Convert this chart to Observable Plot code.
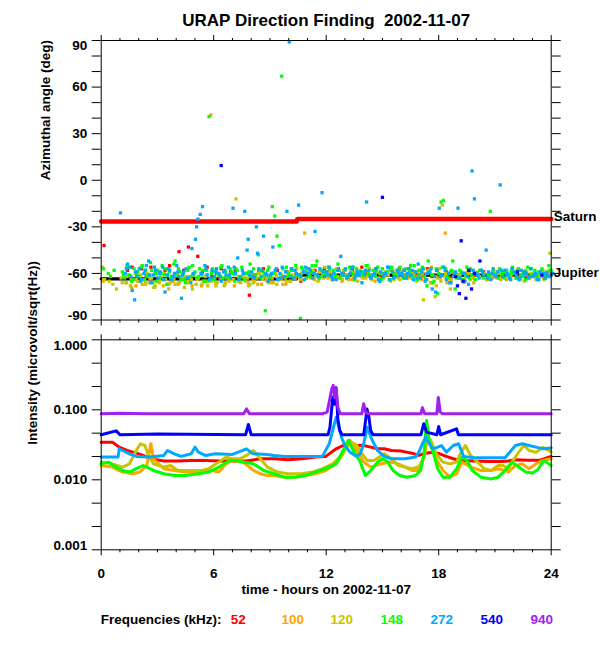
<!DOCTYPE html>
<html><head><meta charset="utf-8">
<script src="https://cdn.jsdelivr.net/npm/d3@7"></script>
<script src="https://cdn.jsdelivr.net/npm/@observablehq/plot@0.6"></script>
<style>
body{margin:0;background:#fff;overflow:hidden;}
#wrap{position:relative;width:600px;height:650px;font-family:"Liberation Sans",Arial,Helvetica,sans-serif;font-weight:bold;color:#000;}
#top{position:absolute;left:0;top:0;}
#bot{position:absolute;left:0;top:330px;}
#legend{position:absolute;top:611px;left:0;width:600px;height:18px;font-size:13.5px;line-height:18px;}
#legend span{position:absolute;top:0;white-space:nowrap;}
</style></head><body>
<div id="wrap"><div id="top"></div><div id="bot"></div><div id="legend"></div></div>
<script>
// ---------- labels / ticks ----------
const titleText = "URAP Direction Finding  2002-11-07";
const xTitle = "time - hours on 2002-11-07";
const topYTitle = "Azimuthal angle (deg)";
const botYTitle = "Intensity (microvolt/sqrt(Hz))";
const legendTitle = "Frequencies (kHz):";
const xMajor = [0, 6, 12, 18, 24];
const xMinor = [1,2,3,4,5,7,8,9,10,11,13,14,15,16,17,19,20,21,22,23];
const angleTicks = [-90,-80,-70,-60,-50,-40,-30,-20,-10,0,10,20,30,40,50,60,70,80,90];
const angleLabels = [-60,-30,0,30,60];
const angleEndTop = [90];
const angleEndBottom = [-90];
const intTicks = [0.001,0.00215,0.00464,0.01,0.0215,0.0464,0.1,0.215,0.464,1];
const intLabels = [0.01, 0.1];
const intEndTop = [1];
const intEndBottom = [0.001];
const freqs = [52, 100, 120, 148, 272, 540, 940];
const freqColors = ["#ff0000", "#ffa500", "#c8c400", "#00ff00", "#00a8ff", "#0000ff", "#a020f0"];
const legendX = [238.3, 292.7, 341.7, 391.7, 441.7, 491.7, 541.7];

// ---------- source direction lines ----------
const saturnT = [0, 10.42, 10.46, 24];
const saturnA = [-26.6, -26.6, -24.9, -24.9];
const jupiterT = [0, 10.42, 10.46, 24];
const jupiterA = [-63.5, -63.5, -61.1, -61.1];

// ---------- azimuth samples (deg), one row per hour ----------
// 148 kHz, start 0.00 h, every 0.125 h
const az148 = [
 null,-57,null,-60,-62,null,null,null,
 null,-59,-63,-55,-61,-65,-57,-60,
 -62,-56,-64,-58,-61,-53,-66,-60,
 -58,-63,-55,-61,-67,-59,-62,-54,
 -61,-57,-64,-60,-66,-58,-62,-55,
 -59,-63,-57,-61,-65,-58,41,-60,
 -64,-58,-61,-56,-63,-59,-62,-57,
 -60,-65,-58,-62,-56,-64,-60,-59,
 -62,-57,-61,-48,-63,-59,-84,-58,
 -63,-17,-23,-36,-42,67,-62,-56,
 -60,-58,-63,-55,-61,-89,-57,-59,
 -57,-62,-55,-60,-52,-63,-58,-61,
 -59,-56,-62,-58,-61,-54,-63,-60,
 -58,-62,-56,-60,-64,-57,-61,-59,
 -61,-55,-60,-63,-58,-62,-56,-60,
 -57,-61,-59,-64,-56,-60,-62,-58,
 -60,-63,-57,-61,-55,-62,-59,-64,
 -58,-56,-62,-68,-59,-61,-65,-57,
 -60,-14,-13,-57,-63,-59,-52,-70,
 -62,-58,-64,-60,-56,-63,-61,null,
 -60,null,-58,-63,null,-61,-20,-59,
 -62,null,-57,-60,-63,-58,-61,-59,
 -60,-63,-57,-61,-59,-64,-56,-62,
 -61,-58,-63,-60,-57,-62,-59,-55,
 -58];
// 148 kHz, second antenna sweep, start 0.19 h, every 0.25 h
const az148b = [
 null,null,-58,null,
 -61,-56,-64,-59,
 -55,-62,-58,-65,
 -60,-57,-63,-52,
 -59,-64,-56,-61,
 -62,-58,-65,-57,
 -60,-55,-63,-59,
 -57,-62,-60,-54,
 -63,-58,-61,-56,
 -60,-64,-57,-62,
 -58,-61,-56,-63,
 -59,-55,-62,-60,
 -57,-63,-58,-61,
 -62,-56,-60,-59,
 -55,-61,-58,-64,
 -60,-57,-62,-56,
 -63,-59,-55,-61,
 -57,-52,-66,-73,
 -56,-62,-58,-63,
 -59,-61,-57,-64,
 -58,null,-62,-60,
 -63,-59,-61,-56,
 -58,-62,-60,-57,
 -61,-59,-63,-58,
 null];
// 120 kHz, start 0.06 h, every 0.125 h
const az120 = [
 -56,-64,null,-65,null,null,-70,null,
 -63,null,-66,-61,-68,-64,-60,-65,
 -62,-67,-64,-60,-66,-63,-69,-61,
 -65,-62,-68,-64,-61,-66,-63,-67,
 -60,-66,-63,-69,-62,-65,-64,-61,
 -67,-63,-60,-65,-62,-68,-64,-59,
 -63,-66,-61,-64,-68,-62,-65,-60,
 -64,-12,-62,-66,-60,-65,-63,-67,
 -61,-65,-63,-60,-67,-62,-64,-66,
 -62,-66,-60,-64,-61,-67,-63,-59,
 -65,-61,-63,-57,-62,-60,-64,-58,
 -60,-63,-58,-62,-65,-59,-61,-56,
 -62,-59,-64,-60,-57,-63,-61,-58,
 -61,-64,-59,-62,-60,-65,-58,-63,
 -60,-62,-57,-64,-61,-59,-63,-60,
 -63,-59,-61,-65,-58,-62,-60,-64,
 -59,-62,-60,-57,-63,-61,-65,-58,
 -62,-77,-64,-58,-66,-61,-75,-63,
 -57,-16,-62,-66,-60,-64,-59,-61,
 -63,-60,-65,-62,-58,-64,-61,null,
 -59,-62,null,-60,-64,null,-61,-58,
 -62,-60,-64,null,-59,-63,-61,-57,
 -60,-63,-58,-61,-65,-59,-62,-60,
 -61,-64,-59,-62,-58,-63,-60,-47,
 null];
// 120 kHz, second sweep, start 0.12 h, every 0.25 h
const az120b = [
 -64,null,-67,null,
 -66,-62,-69,-64,
 -61,-66,-63,-68,
 -64,-60,-67,-63,
 -66,-62,-65,-70,
 -63,-67,-61,-65,
 -68,-62,-66,-64,
 -61,-65,-63,-68,
 -66,-60,-64,-62,
 -63,-67,-61,-65,
 -62,-60,-64,-59,
 -61,-64,-59,-63,
 -60,-62,-58,-64,
 -63,-59,-62,-60,
 -58,-63,-61,-65,
 -61,-58,-64,-60,
 -62,-60,-63,-59,
 -60,-64,-56,-68,
 -65,-60,-70,-62,
 -61,-64,-59,-66,
 -62,-60,null,-63,
 -59,-62,-64,-60,
 -63,-61,-58,-62,
 -60,-62,-64,-59,
 null];
// 272 kHz, start 0.03 h, every 0.125 h
const az272 = [
 null,null,null,null,null,null,null,null,
 -21,null,-60,-54,-56,-71,-77,-62,
 -57,-64,-60,-55,-52,-66,-61,-58,
 -63,-59,-56,-72,-61,-58,-64,-60,
 -55,-62,-76,-59,-57,-63,-66,-60,
 -38,-25,-22,-17,-55,-61,-64,-58,
 -62,-57,-60,-65,-59,-61,-56,-63,
 -18,-60,-50,-63,-58,-20,-45,-61,
 -59,-63,-30,-57,-62,-36,-60,-65,
 -61,-43,-58,-64,-60,-56,-62,-20,
 89,-57,-63,-60,-16,-62,-59,-56,
 -60,-58,-63,-33,-61,-57,-8,-62,
 -59,-56,-62,-60,-64,-58,-49,-61,
 -57,-62,-60,-56,-63,-59,-61,-66,
 -60,-14,-58,-63,-61,-57,-64,-59,
 -62,-60,-56,-64,-59,-62,-58,-61,
 -60,-58,-63,-57,-61,-64,-59,-54,
 -63,-57,-65,-60,-59,-70,-62,-58,
 -18,-61,-56,-64,-60,-66,-62,-59,
 -18,-63,-60,-65,-62,-58,6,-12,
 -60,-63,-58,-61,-45,-59,-64,-57,
 -61,-59,-3,-62,-58,-60,-63,-57,
 -59,-62,-64,-58,-61,-60,-63,-57,
 -62,-60,-64,-59,-61,-63,-60,-62,
 null];
// 272 kHz, second sweep, start 0.09 h, every 0.25 h
const az272b = [
 null,null,null,null,
 null,-57,-62,-59,
 -65,-58,-61,-56,
 -60,-64,-57,-62,
 -59,-61,-63,-44,
 -30,-60,-57,-63,
 -59,-62,-58,-61,
 -56,-64,-60,-38,
 -62,-47,-58,-61,
 -60,-57,-63,-59,
 -62,-58,-61,-64,
 -57,-60,-62,-59,
 -61,-64,-58,-60,
 -63,-57,-61,-59,
 -58,-62,-60,-65,
 -60,-56,-63,-59,
 -62,-60,-58,-63,
 -59,-64,-57,-72,
 -62,-58,-66,-60,
 -63,-60,-67,-58,
 -61,-59,-63,-60,
 -62,-58,-61,-64,
 -60,-63,-59,-62,
 -61,-64,-60,-62,
 -60];
// 100 kHz, start 0.10 h, every 0.25 h
const az100 = [
 -65,null,null,null,
 null,-66,-64,-68,
 -65,-67,-63,-69,
 -66,-64,-70,-65,
 -67,-63,-66,-68,
 -64,-68,-65,42,
 -66,-63,-67,-64,
 -68,-65,-62,-66,
 -64,-67,-63,-65,
 -66,-62,-64,-67,
 -65,-63,-61,-34,
 -62,-60,-64,-61,
 -63,-60,-62,-65,
 -61,-64,-59,-62,
 -63,-61,-65,-60,
 -62,-64,-60,-63,
 -61,-63,-59,-62,
 -64,-60,-66,-62,
 -63,-34,-65,-60,
 -62,-66,-60,-63,
 -61,null,-64,-60,
 -63,-61,null,-62,
 -60,-64,-61,-63,
 -62,-60,-63,-61,
 null];
// 52 kHz, start 0.15 h, every 0.25 h
const az52 = [
 -42,null,null,null,
 null,-58,-56,-61,
 -57,-62,-56,-59,
 -60,-58,-55,-63,
 -46,-58,-43,-61,
 -49,-59,-56,-62,
 -60,-57,-63,-59,
 -58,-62,-60,-74,
 -61,-59,-57,-63,
 -60,-58,-62,-59,
 -57,-61,-65,-59,
 -60,-58,-62,-57,
 -59,-61,-57,-60,
 -62,-58,-60,-56,
 -59,-61,-57,-62,
 -60,-58,-61,-57,
 -58,-62,-59,-61,
 -60,-57,-62,-58,
 -61,-59,-63,-60,
 -62,-60,null,-61,
 null,-59,null,-62,
 null,-60,null,-61,
 -61,null,-62,null,
 -60,null,-61,-59,
 null];
// 540 kHz, sparse detections
const az540T = [6.4, 15.0, 18.9, 19.0, 19.1, 19.2, 19.3, 19.45, 19.6, 19.75, 19.9, 20.2, 22.2, 23.5];
const az540A = [9.5, -11, -62, -68, -73, -39, -65, -76, -58, -70, -60, -52, -59, -61];

// ---------- intensity (microvolt/sqrt(Hz)) [hour, value] ----------
const int52 = [[0,0.0345],[0.59,0.0345],[0.96,0.0293],[1.32,0.0268],[1.51,0.0257],[1.87,0.024],[2.24,0.0223],[2.61,0.02],[3.34,0.0185],[4.08,0.0185],[4.81,0.0189],[5.55,0.0189],[6.28,0.0185],[7.02,0.0185],[7.75,0.0185],[8.49,0.02],[9.22,0.02],[9.96,0.0193],[10.69,0.02],[11.43,0.0211],[11.98,0.0216],[12.53,0.0277],[12.9,0.0309],[13.27,0.0327],[13.63,0.0309],[14.0,0.0309],[14.37,0.0293],[14.74,0.0277],[15.1,0.0277],[15.47,0.0262],[16.02,0.0257],[16.57,0.024],[16.94,0.0223],[17.31,0.024],[17.68,0.0248],[18.05,0.0235],[18.41,0.0216],[18.78,0.02],[19.15,0.0189],[19.88,0.0185],[20.62,0.0183],[21.35,0.0183],[21.72,0.0185],[22.09,0.0193],[22.82,0.019],[23.4,0.019],[24,0.0215]];
const int100 = [[0,0.016],[0.59,0.0152],[1.14,0.0129],[1.69,0.0122],[2.06,0.0129],[2.43,0.016],[2.65,0.0327],[2.79,0.02],[3.34,0.0144],[3.9,0.0136],[4.45,0.0129],[5.18,0.0129],[5.92,0.0136],[6.28,0.0129],[6.65,0.0169],[7.02,0.0189],[7.57,0.0179],[8.12,0.0136],[8.49,0.0122],[8.86,0.0115],[9.22,0.0115],[9.78,0.0109],[10.33,0.0109],[10.88,0.0115],[11.43,0.0122],[11.98,0.0136],[12.53,0.0169],[12.9,0.0235],[13.27,0.0365],[13.63,0.0262],[14.0,0.0179],[14.37,0.0152],[14.92,0.0169],[15.47,0.0179],[15.84,0.0169],[16.21,0.0152],[16.57,0.0136],[16.94,0.0136],[17.22,0.0211],[17.4,0.0407],[17.59,0.0293],[17.95,0.0179],[18.23,0.0136],[18.6,0.0109],[18.96,0.0122],[19.24,0.0179],[19.7,0.0152],[20.25,0.0136],[20.8,0.0136],[21.17,0.0144],[21.54,0.0136],[21.72,0.0129],[22.09,0.016],[22.46,0.0169],[22.82,0.0144],[23.19,0.0169],[23.56,0.0189],[24,0.02]];
const int120 = [[0,0.0179],[0.59,0.0169],[1.14,0.0152],[1.51,0.0169],[1.87,0.0262],[2.09,0.0327],[2.33,0.0309],[2.52,0.0223],[2.79,0.0169],[3.34,0.0152],[3.71,0.016],[4.08,0.0136],[4.81,0.0136],[5.37,0.0136],[5.73,0.0144],[6.28,0.0179],[6.65,0.0211],[7.02,0.02],[7.39,0.02],[7.75,0.0223],[8.12,0.0262],[8.49,0.02],[8.86,0.0152],[9.41,0.0129],[9.96,0.0122],[10.69,0.0122],[11.25,0.0129],[11.8,0.0144],[12.35,0.0169],[12.72,0.0211],[13.08,0.0293],[13.36,0.0345],[13.63,0.0309],[13.91,0.0235],[14.19,0.0189],[14.55,0.0189],[14.83,0.0211],[15.1,0.0235],[15.47,0.02],[15.84,0.016],[16.21,0.0152],[16.57,0.0144],[16.94,0.0152],[17.22,0.0211],[17.4,0.0385],[17.59,0.0365],[17.86,0.0235],[18.23,0.0179],[18.6,0.0169],[18.96,0.0179],[19.15,0.0235],[19.42,0.0309],[19.7,0.0223],[20.07,0.0179],[20.43,0.0144],[20.8,0.0136],[21.17,0.016],[21.44,0.016],[21.72,0.0144],[21.9,0.0179],[22.27,0.0248],[22.55,0.0309],[22.82,0.0262],[23.19,0.0248],[23.56,0.029],[24,0.025]];
const int148 = [[0,0.0169],[0.4,0.0179],[0.77,0.0152],[1.14,0.0136],[1.51,0.0129],[1.87,0.0144],[2.24,0.016],[2.43,0.0152],[2.79,0.0136],[3.34,0.0122],[3.9,0.0115],[4.45,0.0115],[5.18,0.0122],[5.73,0.0129],[6.28,0.0152],[6.84,0.0189],[7.2,0.0189],[7.57,0.0179],[8.12,0.0169],[8.67,0.0136],[9.22,0.0122],[9.78,0.0109],[10.33,0.0109],[10.88,0.0115],[11.43,0.0129],[11.98,0.0144],[12.53,0.0169],[12.9,0.0262],[13.18,0.0365],[13.45,0.0262],[13.82,0.0179],[14.09,0.0115],[14.37,0.0136],[14.74,0.0179],[15.01,0.02],[15.29,0.0179],[15.56,0.0136],[15.93,0.0115],[16.3,0.0109],[16.76,0.0115],[17.03,0.0136],[17.22,0.0235],[17.35,0.0704],[17.49,0.0365],[17.68,0.0262],[17.95,0.0144],[18.23,0.0109],[18.6,0.0109],[18.96,0.0144],[19.24,0.0211],[19.51,0.0189],[19.79,0.0136],[20.25,0.0109],[20.8,0.0103],[21.17,0.0109],[21.54,0.0136],[21.9,0.0179],[22.27,0.0152],[22.64,0.0129],[23.0,0.0125],[23.3,0.014],[23.6,0.019],[24,0.016]];
const int272 = [[0,0.0211],[0.9,0.0211],[0.96,0.0277],[1.14,0.0262],[1.5,0.0235],[1.87,0.0216],[2.6,0.0211],[3.34,0.0223],[3.53,0.0262],[3.9,0.0235],[4.26,0.0216],[4.8,0.0235],[5.0,0.0293],[5.18,0.0248],[5.55,0.0223],[6.1,0.0235],[7.0,0.023],[7.75,0.0277],[8.1,0.0235],[8.86,0.023],[9.22,0.0223],[9.78,0.0216],[10.7,0.0216],[11.8,0.0216],[12.16,0.0327],[12.35,0.0507],[12.53,0.0785],[12.68,0.0565],[12.81,0.0407],[13.0,0.0309],[13.27,0.0248],[13.63,0.0216],[13.82,0.0235],[14.0,0.0327],[14.19,0.0565],[14.28,0.048],[14.46,0.0365],[14.74,0.0262],[15.1,0.0216],[15.47,0.02],[16.2,0.02],[16.76,0.0211],[16.94,0.0248],[17.13,0.0327],[17.31,0.0407],[17.4,0.0365],[17.68,0.0277],[17.95,0.0293],[18.14,0.0309],[18.41,0.0248],[18.78,0.0309],[19.06,0.0327],[19.33,0.0216],[19.88,0.0206],[20.8,0.0206],[21.54,0.0206],[21.72,0.0235],[22.09,0.0309],[22.46,0.0327],[22.82,0.0309],[23.19,0.0293],[23.56,0.0277],[24,0.0285]];
const int540 = [[0,0.044],[0.8,0.05],[1.0,0.044],[3.0,0.045],[7.7,0.044],[7.85,0.0617],[8.0,0.044],[12.1,0.044],[12.2,0.0565],[12.35,0.152],[12.45,0.12],[12.53,0.206],[12.62,0.0743],[12.72,0.0507],[12.85,0.044],[14.0,0.044],[14.1,0.07],[14.17,0.103],[14.28,0.0785],[14.37,0.0507],[14.5,0.044],[17.05,0.044],[17.2,0.0631],[17.35,0.048],[17.9,0.044],[18.0,0.0578],[18.1,0.044],[18.95,0.0535],[19.05,0.044],[24,0.044]];
const int940 = [[0,0.0877],[1.0,0.089],[2.5,0.0877],[5.0,0.088],[7.6,0.0877],[7.75,0.103],[7.9,0.0877],[11.8,0.0877],[12.05,0.0926],[12.16,0.129],[12.3,0.2],[12.38,0.223],[12.45,0.15],[12.53,0.2],[12.62,0.109],[12.75,0.0877],[13.9,0.0877],[14.0,0.122],[14.1,0.0926],[14.25,0.0877],[17.05,0.0877],[17.13,0.107],[17.25,0.0877],[17.9,0.0877],[17.98,0.15],[18.08,0.0926],[18.2,0.0877],[24,0.0877]];

// ---------- assemble ----------
function sampled(vals, t0, dt) {
  const out = [];
  vals.forEach((a, i) => { if (a != null) out.push({t: t0 + i * dt, a}); });
  return out;
}
const azSeries = [
  {data: sampled(az52, 0.15, 0.25), color: freqColors[0]},
  {data: sampled(az100, 0.10, 0.25), color: freqColors[1]},
  {data: sampled(az120, 0.06, 0.125), color: freqColors[2]},
  {data: sampled(az120b, 0.12, 0.25), color: freqColors[2]},
  {data: sampled(az148, 0.00, 0.125), color: freqColors[3]},
  {data: sampled(az148b, 0.19, 0.25), color: freqColors[3]},
  {data: sampled(az272, 0.03, 0.125), color: freqColors[4]},
  {data: sampled(az272b, 0.09, 0.25), color: freqColors[4]},
  {data: az540T.map((t, i) => ({t, a: az540A[i]})), color: freqColors[5]}
];
const intSeries = [int52, int100, int120, int148, int272, int540, int940];

const font = '"Liberation Sans", Arial, Helvetica, sans-serif';
const style = {fontFamily: font, fontSize: "13.5px", fontWeight: "bold", color: "black", background: "white", overflow: "visible"};

const topPlot = Plot.plot({
  width: 600, height: 330,
  marginTop: 40, marginBottom: 10.5, marginLeft: 100.7, marginRight: 49.3,
  x: {domain: [0, 24], label: null},
  y: {domain: [-90, 90], label: null},
  style,
  marks: [
    Plot.line(saturnT.map((t, i) => [t, saturnA[i]]), {x: d => d[0], y: d => d[1], stroke: "#ff0000", strokeWidth: 4.5}),
    Plot.line(jupiterT.map((t, i) => [t, jupiterA[i]]), {x: d => d[0], y: d => d[1], stroke: "#000", strokeWidth: 3.3}),
    ...azSeries.map(s => Plot.dot(s.data, {x: "t", y: "a", fill: s.color, r: 1.85, symbol: "square", stroke: null})),
    Plot.text(["Saturn"], {x: 24, y: saturnA[saturnA.length - 1], dx: 2.5, dy: -2, textAnchor: "start", text: d => d}),
    Plot.text(["Jupiter"], {x: 24, y: jupiterA[jupiterA.length - 1], dx: 2.5, dy: -2, textAnchor: "start", text: d => d}),
    Plot.frame({stroke: "black"}),
    Plot.axisX({anchor: "top", ticks: xMajor, tickSize: 6, tickFormat: () => "", label: null}),
    Plot.axisX({anchor: "top", ticks: xMinor, tickSize: 3, tickFormat: () => "", label: null}),
    Plot.axisX({anchor: "bottom", ticks: xMajor, tickSize: 6, tickFormat: () => "", label: null}),
    Plot.axisX({anchor: "bottom", ticks: xMinor, tickSize: 3, tickFormat: () => "", label: null}),
    Plot.axisY({anchor: "left", ticks: angleTicks, tickSize: 9, tickPadding: 5, tickFormat: d => angleLabels.includes(d) ? String(d) : "", label: null}),
    Plot.axisY({anchor: "right", ticks: angleTicks, tickSize: 9, tickFormat: () => "", label: null}),
    Plot.text(angleEndTop, {y: d => d, frameAnchor: "left", dx: -14, dy: 5, textAnchor: "end", text: d => String(d)}),
    Plot.text(angleEndBottom, {y: d => d, frameAnchor: "left", dx: -14, dy: -4.5, textAnchor: "end", text: d => String(d)}),
    Plot.text([topYTitle], {frameAnchor: "left", dx: -55.7, rotate: -90, text: d => d}),
    Plot.text([titleText], {frameAnchor: "top", dy: -26.5, fontSize: 17, text: d => d})
  ]
});
document.getElementById("top").appendChild(topPlot);

const botPlot = Plot.plot({
  width: 600, height: 280,
  marginTop: 9.3, marginBottom: 60.7, marginLeft: 100.7, marginRight: 49.3,
  x: {domain: [0, 24], label: null},
  y: {type: "log", domain: [0.001, 1], label: null},
  style,
  marks: [
    ...intSeries.map((s, i) => Plot.line(s, {x: d => d[0], y: d => d[1], stroke: freqColors[i], strokeWidth: 3})),
    Plot.frame({stroke: "black"}),
    Plot.axisX({anchor: "top", ticks: xMajor, tickSize: 6, tickFormat: () => "", label: null}),
    Plot.axisX({anchor: "top", ticks: xMinor, tickSize: 3, tickFormat: () => "", label: null}),
    Plot.axisX({anchor: "bottom", ticks: xMajor, tickSize: 6, tickFormat: () => "", label: null}),
    Plot.axisX({anchor: "bottom", ticks: xMinor, tickSize: 3, tickFormat: () => "", label: null}),
    Plot.axisX({anchor: "bottom", ticks: xMajor, tickSize: 0, tickPadding: 18.5, tickFormat: d => String(d), label: null}),
    Plot.axisY({anchor: "left", ticks: intTicks, tickSize: 9, tickPadding: 5, tickFormat: d => intLabels.includes(d) ? d.toFixed(3) : "", label: null}),
    Plot.axisY({anchor: "right", ticks: intTicks, tickSize: 9, tickFormat: () => "", label: null}),
    Plot.text(intEndTop, {y: d => d, frameAnchor: "left", dx: -14, dy: 5.7, textAnchor: "end", text: d => d.toFixed(3)}),
    Plot.text(intEndBottom, {y: d => d, frameAnchor: "left", dx: -14, dy: -4.3, textAnchor: "end", text: d => d.toFixed(3)}),
    Plot.text([botYTitle], {frameAnchor: "left", dx: -69, rotate: -90, text: d => d}),
    Plot.text([xTitle], {frameAnchor: "bottom", dy: 44.5, text: d => d})
  ]
});
document.getElementById("bot").appendChild(botPlot);

// ---------- legend ----------
const legend = document.getElementById("legend");
const lt = document.createElement("span");
lt.textContent = legendTitle;
lt.style.left = "100.8px";
legend.appendChild(lt);
freqs.forEach((f, i) => {
  const s = document.createElement("span");
  s.textContent = String(f);
  s.style.color = freqColors[i];
  s.style.left = legendX[i] + "px";
  s.style.transform = "translateX(-50%)";
  legend.appendChild(s);
});
</script></body></html>
